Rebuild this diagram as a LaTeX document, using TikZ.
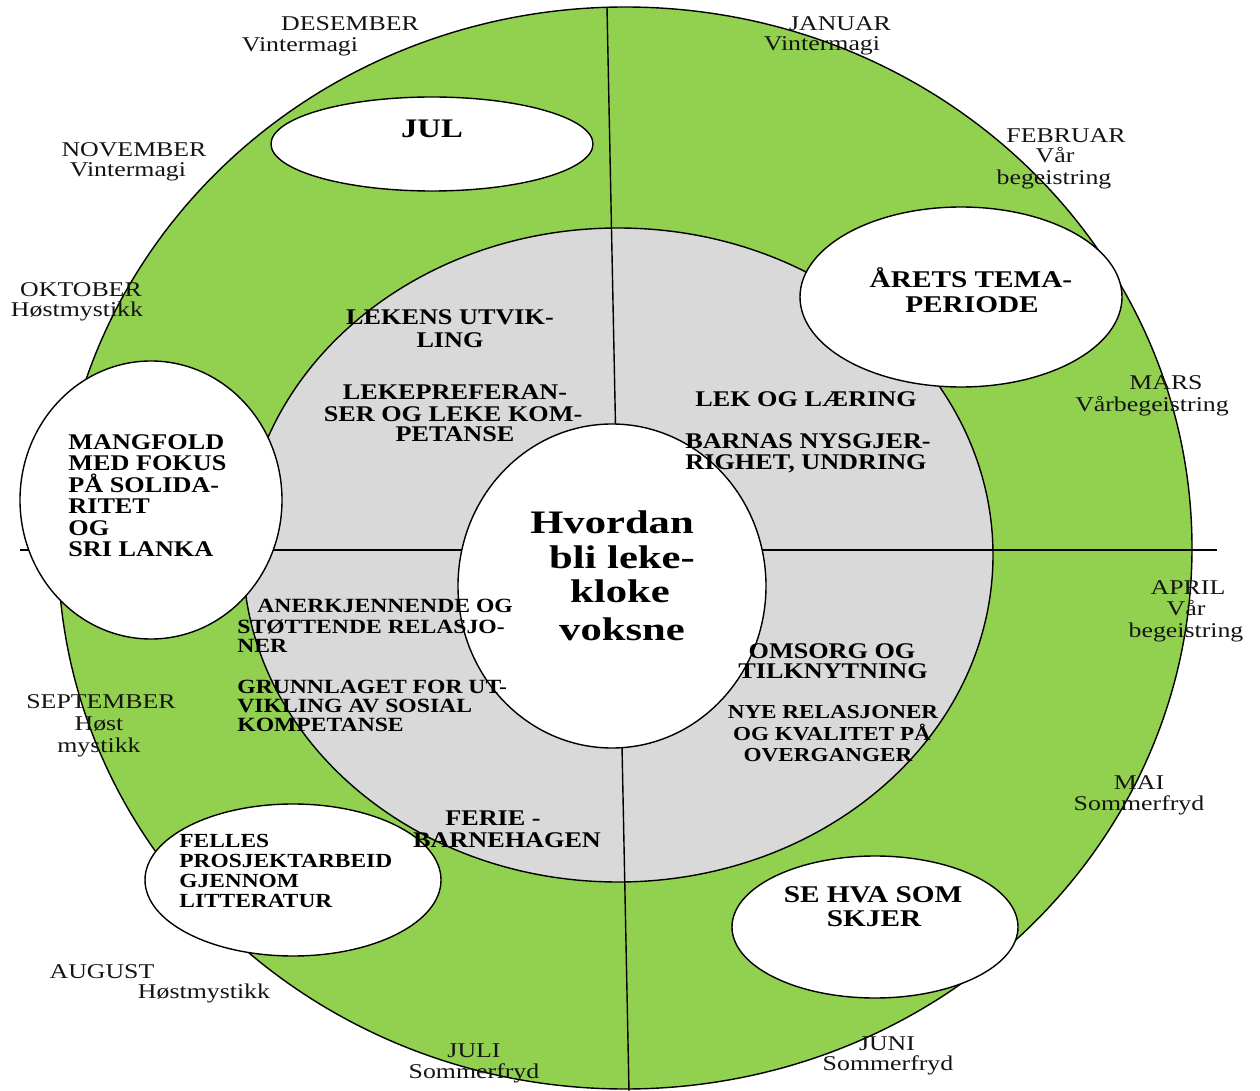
\documentclass[tikz,border=0pt]{standalone}
\usepackage{fontspec}
\setmainfont{Liberation Serif}
\newfontfamily\monthfont{Liberation Serif}[FakeStretch=1.23]
\newfontfamily\bodyfont{Liberation Serif}[FakeStretch=1.17]
\newfontfamily\titlefont{Liberation Serif}[FakeStretch=1.22]
\newfontfamily\hubfont{Liberation Serif}[FakeStretch=1.3]
\usetikzlibrary{shapes.geometric}
\definecolor{ringgreen}{RGB}{146,208,80}
\definecolor{ringgray}{RGB}{217,217,217}
\begin{document}
\begin{tikzpicture}[x=0.5pt,y=-0.5pt,
  disc/.style={ellipse, draw=black, line width=0.7pt, inner sep=0pt},
  divider/.style={draw=black, line width=0.7pt},
  month/.style={anchor=base, inner sep=0pt, text=black!92, font=\monthfont\fontsize{10.5}{12}\selectfont},
  body/.style={anchor=base, inner sep=0pt, font=\bodyfont\bfseries\fontsize{11.2}{12}\selectfont},
  bodyl/.style={body, anchor=base west},
  smallbody/.style={anchor=base west, inner sep=0pt, font=\bodyfont\bfseries\fontsize{10.1}{12}\selectfont},
  title/.style={anchor=base, inner sep=0pt, font=\titlefont\bfseries\fontsize{12}{13}\selectfont},
  hubtext/.style={anchor=base, inner sep=0pt, font=\hubfont\bfseries\fontsize{16.4}{18}\selectfont}]
\useasboundingbox (0,0) rectangle (1260,1091);
\fill[white] (0,0) rectangle (1260,1091);

% rings
\node[disc, fill=ringgreen, minimum width=567pt, minimum height=541pt] (outer) at (625,548) {};
\node[disc, fill=ringgray, minimum width=375pt, minimum height=327pt] (ring) at (618,555) {};

% dividers
\coordinate (vtop) at (607,7);
\coordinate (vbot) at (629,1091);
\coordinate (hleft) at (20,550);
\coordinate (hright) at (1217,550);
\draw[divider] (vtop) -- (vbot);
\draw[divider] (hleft) -- (hright);

% white ellipses
\node[disc, fill=white, minimum width=154pt, minimum height=162pt] (hub) at (612,586) {};
\node[disc, fill=white, minimum width=161pt, minimum height=47pt] (jul) at (432,144) {};
\node[disc, fill=white, minimum width=161pt, minimum height=90pt] (tema) at (961,297) {};
\node[disc, fill=white, minimum width=131pt, minimum height=139pt] (mangfold) at (151,500) {};
\node[disc, fill=white, minimum width=148pt, minimum height=76pt] (felles) at (293,880) {};
\node[disc, fill=white, minimum width=143pt, minimum height=71pt] (sehva) at (875,927) {};

% months
\node[month] (des1) at (350,31) {DESEMBER};
\node[month] (des2) at (300,52) {Vintermagi};
\node[month] (jan1) at (840,31) {JANUAR};
\node[month] (jan2) at (822,51) {Vintermagi};
\node[month] (nov1) at (134,157) {NOVEMBER};
\node[month] (nov2) at (128,177) {Vintermagi};
\node[month] (feb1) at (1066,143) {FEBRUAR};
\node[month] (feb2) at (1055,163) {Vår};
\node[month] (feb3) at (1054,185) {begeistring};
\node[month] (okt1) at (81,297) {OKTOBER};
\node[month] (okt2) at (77,317) {Høstmystikk};
\node[month] (mar1) at (1166,390) {MARS};
\node[month] (mar2) at (1152,412) {Vårbegeistring};
\node[month] (apr1) at (1188,595) {APRIL};
\node[month] (apr2) at (1186,615) {Vår};
\node[month] (apr3) at (1186,637) {begeistring};
\node[month] (sep1) at (101,708) {SEPTEMBER};
\node[month] (sep2) at (99,730) {Høst};
\node[month] (sep3) at (99,752) {mystikk};
\node[month] (mai1) at (1139,789) {MAI};
\node[month] (mai2) at (1139,810) {Sommerfryd};
\node[month] (aug1) at (102,978) {AUGUST};
\node[month] (aug2) at (204,998) {Høstmystikk};
\node[month] (jul1) at (474,1057) {JULI};
\node[month] (jul2) at (474,1078) {Sommerfryd};
\node[month] (jun1) at (887,1050) {JUNI};
\node[month] (jun2) at (888,1070) {Sommerfryd};

% ellipse titles
\node[title, font=\titlefont\bfseries\fontsize{13.4}{14}\selectfont] (tjul) at (432,138) {JUL};
\node[title] (ttema1) at (971,288) {ÅRETS TEMA-};
\node[title] (ttema2) at (972,313) {PERIODE};
\node[title] (tse1) at (873,902) {SE HVA SOM};
\node[title] (tse2) at (874,926) {SKJER};

% upper left quadrant
\node[body] (lu1) at (450,325) {LEKENS UTVIK-};
\node[body] (lu2) at (450,348) {LING};
\node[body] (lp1) at (455,400) {LEKEPREFERAN-};
\node[body] (lp2) at (453,422) {SER OG LEKE KOM-};
\node[body] (lp3) at (455,442) {PETANSE};

% upper right quadrant
\node[body] (ll) at (806,407) {LEK OG LÆRING};
\node[body] (bn1) at (808,449) {BARNAS NYSGJER-};
\node[body] (bn2) at (806,470) {RIGHET, UNDRING};

% mangfold
\node[bodyl] (mf1) at (68,450) {MANGFOLD};
\node[bodyl] (mf2) at (68,471) {MED FOKUS};
\node[bodyl] (mf3) at (68,493) {PÅ SOLIDA-};
\node[bodyl] (mf4) at (68,514) {RITET};
\node[bodyl] (mf5) at (68,536) {OG};
\node[bodyl] (mf6) at (68,557) {SRI LANKA};

% lower left quadrant
\node[smallbody] (an1) at (257,612) {ANERKJENNENDE OG};
\node[smallbody] (an2) at (237,633) {STØTTENDE RELASJO-};
\node[smallbody] (an3) at (237,653) {NER};
\node[smallbody] (gr1) at (237,693) {GRUNNLAGET FOR UT-};
\node[smallbody] (gr2) at (237,712) {VIKLING AV SOSIAL};
\node[smallbody] (gr3) at (237,731) {KOMPETANSE};
\node[body] (fe1) at (493,825) {FERIE -};
\node[body] (fe2) at (507,847) {BARNEHAGEN};

% felles
\node[smallbody, font=\bodyfont\bfseries\fontsize{10}{11}\selectfont] (fl1) at (179,847) {FELLES};
\node[smallbody, font=\bodyfont\bfseries\fontsize{10}{11}\selectfont] (fl2) at (179,867) {PROSJEKTARBEID};
\node[smallbody, font=\bodyfont\bfseries\fontsize{10}{11}\selectfont] (fl3) at (179,887) {GJENNOM};
\node[smallbody, font=\bodyfont\bfseries\fontsize{10}{11}\selectfont] (fl4) at (179,907) {LITTERATUR};

% lower right quadrant
\node[body] (om1) at (832,658) {OMSORG OG};
\node[body] (om2) at (833,678) {TILKNYTNING};
\node[body, font=\bodyfont\bfseries\fontsize{9.9}{11}\selectfont] (ny1) at (833,718) {NYE RELASJONER};
\node[body, font=\bodyfont\bfseries\fontsize{9.9}{11}\selectfont] (ny2) at (832,740) {OG KVALITET PÅ};
\node[body, font=\bodyfont\bfseries\fontsize{9.9}{11}\selectfont] (ny3) at (828,761) {OVERGANGER};

% hub
\node[hubtext] (h1) at (612,533) {Hvordan};
\node[hubtext] (h2) at (622,568) {bli leke-};
\node[hubtext] (h3) at (620,603) {kloke};
\node[hubtext] (h4) at (622,640) {voksne};
\end{tikzpicture}
\end{document}
